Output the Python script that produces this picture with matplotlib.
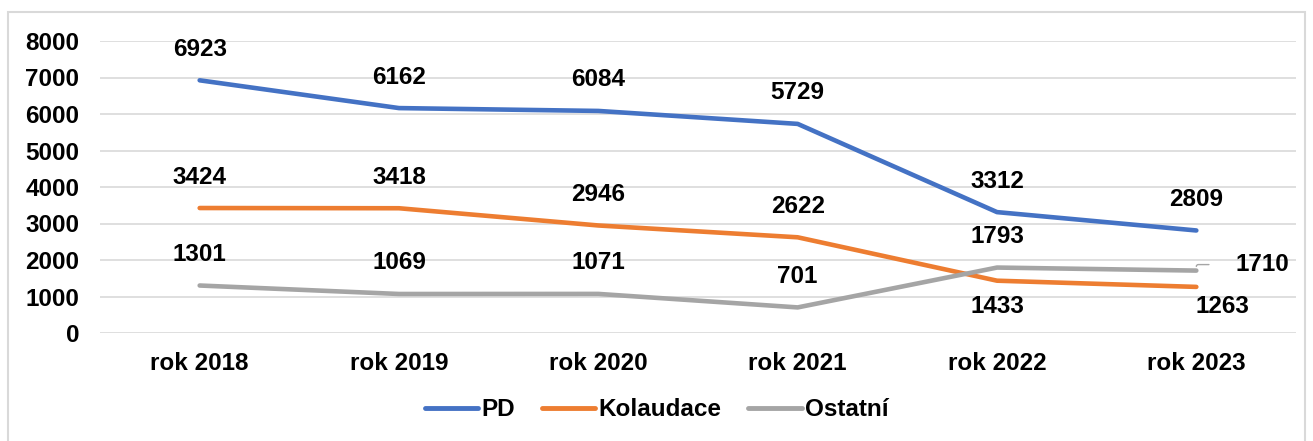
import matplotlib.pyplot as plt
from matplotlib.patches import Rectangle
import numpy as np

roky = ['rok 2018', 'rok 2019', 'rok 2020', 'rok 2021', 'rok 2022', 'rok 2023']
pd_hodnoty = [6923, 6162, 6084, 5729, 3312, 2809]
kolaudace = [3424, 3418, 2946, 2622, 1433, 1263]
ostatni = [1301, 1069, 1071, 701, 1793, 1710]

plt.rcParams['font.family'] = ['Liberation Sans', 'DejaVu Sans']
plt.rcParams['font.weight'] = 'bold'

W, H = 1313, 441
fig = plt.figure(figsize=(W / 100, H / 100), dpi=100)
# svetly ramecek kolem grafu
fig.patches.append(Rectangle((8 / W, -0.05), (W - 8.5) / W - 8 / W, 1.05 - 12 / H,
                             transform=fig.transFigure, fill=False,
                             edgecolor='#d9d9d9', lw=1.5))

ax = fig.add_axes([100 / W, 1 - 333 / H, (1296 - 100) / W, (333 - 41) / H])
x = np.arange(len(roky))

barvy = {'PD': '#4472C4', 'Kolaudace': '#ED7D31', 'Ostatní': '#A5A5A5'}
serie = [('PD', pd_hodnoty), ('Kolaudace', kolaudace), ('Ostatní', ostatni)]
for nazev, hodnoty in serie:
    ax.plot(x, hodnoty, color=barvy[nazev], lw=3.3, solid_capstyle='round',
            solid_joinstyle='round', label=nazev, zorder=3)

# popisky hodnot
dole = {('Kolaudace', 4): (0, -26), ('Kolaudace', 5): (26, -20)}
for nazev, hodnoty in serie:
    for i, v in enumerate(hodnoty):
        if (nazev, i) in dole:
            ox, oy = dole[(nazev, i)]
        elif nazev == 'Ostatní' and i == 5:
            continue
        else:
            ox, oy = 0, 31
        ax.annotate(str(v), (x[i], v), xytext=(ox, oy), textcoords='offset pixels',
                    ha='center', va='center', fontsize=17.5, fontweight='bold')

# 1710 vpravo s vodici carou
ax.annotate(str(ostatni[5]), (x[5], ostatni[5]), xytext=(39, 6), textcoords='offset pixels',
            ha='left', va='center', fontsize=17.5, fontweight='bold',
            arrowprops=dict(arrowstyle='-', color='#a5a5a5', lw=1, relpos=(0, 0.5),
                            shrinkA=17, shrinkB=3,
                            connectionstyle='angle,angleA=0,angleB=90,rad=2'))

ax.set_xlim(-0.5, len(roky) - 0.5)
ax.set_ylim(0, 8000)
ax.set_yticks(np.arange(0, 8001, 1000))
ax.set_xticks(x)
ax.set_xticklabels(roky)
ax.grid(axis='y', color='#d9d9d9', lw=1.2, zorder=0)
ax.set_axisbelow(True)
for s in ax.spines.values():
    s.set_visible(False)
ax.tick_params(axis='both', length=0, labelsize=17.5)
ax.tick_params(axis='y', pad=15)
ax.tick_params(axis='x', pad=14)
for t in ax.get_xticklabels() + ax.get_yticklabels():
    t.set_fontweight('bold')

leg = ax.legend(loc='center', bbox_to_anchor=(0.5, (H - 410) / H), bbox_transform=fig.transFigure,
                ncol=3, frameon=False, fontsize=17.5, handlelength=2.2, handletextpad=0.13,
                columnspacing=1.1)
for l in leg.get_lines():
    l.set_linewidth(3.5)
    l.set_solid_capstyle('round')

fig.savefig('out.png', dpi=100)
